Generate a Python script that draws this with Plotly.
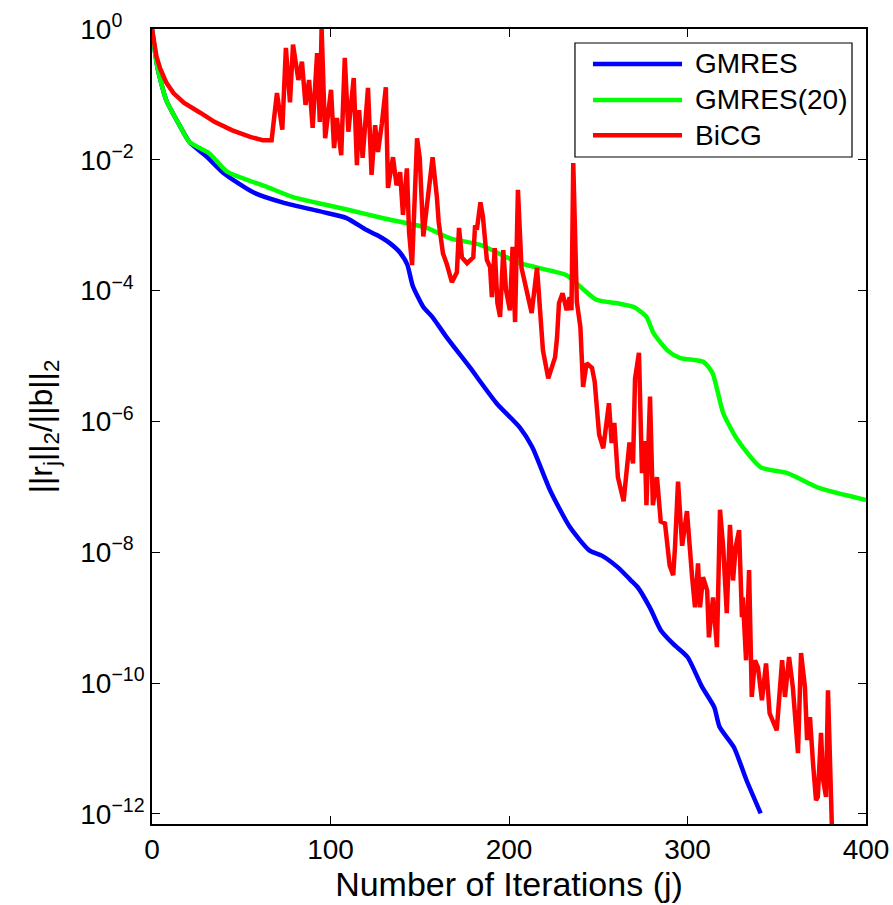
import plotly.graph_objects as go

# ---------------- data ----------------
# iteration numbers and log10 of relative residual
gmres_iter = [0, 3, 8, 16, 21, 31, 40, 57, 73, 96, 109, 120, 126, 133, 139, 143, 146, 152,
              157, 165, 178, 193, 206, 213, 223, 234, 245, 252, 261, 268, 272, 279, 285,
              292, 300, 308, 315, 318, 326, 333, 341]
gmres_log10 = [0, -0.58, -1.09, -1.5, -1.73, -1.96, -2.2, -2.5, -2.65, -2.8, -2.89, -3.07,
               -3.15, -3.27, -3.42, -3.6, -3.92, -4.25, -4.4, -4.71, -5.17, -5.72, -6.09,
               -6.39, -7.05, -7.61, -7.97, -8.05, -8.23, -8.42, -8.53, -8.85, -9.19, -9.4,
               -9.6, -10.05, -10.37, -10.67, -10.98, -11.48, -11.99]

gmres20_iter = [0, 3, 8, 16, 21, 32, 42, 64, 79, 96, 111, 129, 143, 154, 167, 184, 206,
                232, 240, 249, 262, 270, 277, 281, 289, 296, 309, 314, 320, 328, 341, 356,
                374, 400]
gmres20_log10 = [0, -0.58, -1.09, -1.5, -1.73, -1.9, -2.18, -2.41, -2.57, -2.68, -2.77,
                 -2.89, -2.97, -3.04, -3.2, -3.3, -3.58, -3.76, -3.94, -4.14, -4.2, -4.25,
                 -4.4, -4.65, -4.92, -5.03, -5.09, -5.26, -5.87, -6.28, -6.7, -6.79, -7.02,
                 -7.2]

bicg_iter = [0, 1, 2.5, 4.5, 8, 12, 18, 27, 35, 45, 55, 62, 67, 70, 73, 75, 77.3, 79, 82,
             84, 86, 88, 90, 92.5, 94, 95, 97, 100.3, 102, 103.6, 106, 108, 110, 113, 114.8,
             116, 118, 121, 123, 125, 126.6, 128.8, 131, 132.2, 135, 137, 139, 140.6, 142.8,
             144, 145.7, 148.5, 150, 152, 157.2, 159.6, 160.6, 163, 165, 168, 170.8, 172,
             173.6, 176.5, 180, 181, 182, 184, 185.4, 187.6, 189.4, 190.4, 192, 193.5, 195,
             196.8, 198.3, 200.5, 202, 203.4, 205, 207, 210, 212.7, 215.7, 217.4, 219, 222,
             225.8, 226.9, 228, 230, 232.3, 234, 235, 236, 238, 240, 241.5, 243.5, 246.5,
             248, 250.5, 252.8, 256, 257.5, 259, 261, 264.2, 267.5, 269.5, 270.6, 272.8,
             274.5, 276, 277, 279, 280.6, 282.9, 285, 287.4, 290, 292, 293, 294.7, 297,
             299.7, 302.5, 304.2, 305.9, 307, 308.7, 311, 312, 314.3, 316.5, 318.2, 320,
             322, 323.8, 325.5, 327, 328.9, 330.5, 331, 332.8, 334.5, 336, 337.8, 339.5,
             341.7, 344, 346, 350, 353, 354.6, 356.9, 359, 361.9, 363.6, 365.8, 367, 368.6,
             370.3, 372, 373, 374.8, 376, 377.6, 378.7, 381]
bicg_log10 = [0, -0.2, -0.42, -0.6, -0.82, -0.98, -1.13, -1.28, -1.42, -1.55, -1.65, -1.7,
              -1.7, -0.98, -1.54, -0.29, -1.12, -0.24, -0.78, -0.5, -1.16, -0.78, -1.51,
              -0.37, -1.42, 0.02, -1.67, -0.93, -1.82, -1.36, -1.93, -0.44, -1.57, -0.75,
              -2.08, -1.24, -1.97, -0.9, -2.23, -1.47, -1.88, -1.44, -0.89, -2.43, -1.96,
              -2.39, -2.19, -2.84, -2.13, -3.1, -3.61, -1.67, -1.97, -3.17, -1.96, -2.57,
              -2.95, -3.43, -3.58, -3.87, -3.72, -3.04, -3.49, -3.58, -3.49, -3.0, -3.07,
              -2.65, -2.87, -3.53, -3.64, -4.1, -3.35, -4.19, -4.4, -3.38, -3.99, -4.3, -3.33,
              -4.48, -2.46, -3.65, -3.99, -4.34, -3.65, -4.25, -4.91, -5.34, -5.02, -4.72,
              -4.19, -4.04, -4.3, -4.1, -4.3, -2.05, -4.17, -4.56, -5.47, -5.11, -5.18, -5.39,
              -6.2, -6.41, -5.72, -6.33, -6.02, -6.85, -7.22, -6.32, -6.64, -5.35, -4.95,
              -6.79, -6.3, -7.28, -5.62, -7.28, -6.85, -7.53, -7.56, -8.2, -8.35, -7.92,
              -6.92, -7.9, -7.37, -8.35, -8.84, -8.17, -8.84, -8.38, -8.58, -9.3, -8.69,
              -9.45, -7.35, -7.92, -8.93, -7.58, -8.43, -7.92, -7.66, -8.99, -8.69, -9.65,
              -8.27, -10.21, -9.65, -9.76, -10.26, -9.7, -10.46, -10.72, -9.65, -10.21, -9.6,
              -10.06, -11.07, -9.54, -10.06, -10.87, -10.52, -11.22, -11.79, -11.74, -10.76,
              -11.48, -11.74, -10.11, -12.3]

series_names = ["GMRES", "GMRES(20)", "BiCG"]
series_colors = ["#0000FF", "#00FF00", "#FF0000"]
series_shapes = ["spline", "spline", "linear"]

x_ticks = [0, 100, 200, 300, 400]
y_tick_exponents = [0, -2, -4, -6, -8, -10, -12]

x_title = "Number of Iterations (j)"
y_title = "||r<sub>j</sub>||<sub>2</sub>/||b||<sub>2</sub>"

# ---------------- figure ----------------
FONT = "Liberation Sans, Arial, Helvetica, sans-serif"
HIDE = "<span style='color:rgba(0,0,0,0)'>{}</span>"


def tick_label(e):
    s = ("−" + str(-e)) if e < 0 else str(e)
    pad = ""
    if len(s) == 1:
        pad = HIDE.format("−0")
    elif len(s) == 2:
        pad = HIDE.format("0")
    return "10<sup>" + s + pad + "</sup>"


fig = go.Figure()
all_x = [gmres_iter, gmres20_iter, bicg_iter]
all_e = [gmres_log10, gmres20_log10, bicg_log10]
for name, col, shp, xs, es in zip(series_names, series_colors, series_shapes, all_x, all_e):
    line = dict(color=col, width=4.5, shape=shp)
    if shp == "spline":
        line["smoothing"] = 0.6
    fig.add_trace(go.Scatter(
        x=xs, y=[10 ** e for e in es], mode="lines", name=name,
        line=line, showlegend=False,
    ))

axis_common = dict(
    showline=True, linecolor="black", linewidth=1.5, mirror="allticks",
    ticks="inside", ticklen=8, tickwidth=1, tickcolor="black",
    showgrid=False, zeroline=False, automargin=False,
    tickfont=dict(family=FONT, size=28, color="black"),
)

fig.update_xaxes(range=[0, 400], tickvals=x_ticks, ticktext=[str(v) for v in x_ticks],
                 title=dict(text=x_title, font=dict(family=FONT, size=34, color="black"),
                            standoff=0),
                 **axis_common)
fig.update_yaxes(type="log", range=[-12.153, 0],
                 tickvals=[10 ** e for e in y_tick_exponents],
                 ticktext=[tick_label(e) for e in y_tick_exponents],
                 title=dict(text=y_title, font=dict(family=FONT, size=32, color="black"),
                            standoff=18),
                 **axis_common)

# custom legend (box, line samples, labels) in paper coordinates
shapes = [dict(type="rect", xref="paper", yref="paper", x0=0.5924, x1=0.9804,
               y0=0.8390, y1=0.9824, line=dict(color="black", width=1.2),
               fillcolor="white", layer="above")]
annotations = []
legend_y = [0.9560, 0.9107, 0.8663]
for name, col, ly in zip(series_names, series_colors, legend_y):
    shapes.append(dict(type="line", xref="paper", yref="paper", x0=0.6176, x1=0.7423,
                       y0=ly, y1=ly, line=dict(color=col, width=4.5), layer="above"))
    annotations.append(dict(text=name, xref="paper", yref="paper", x=0.7577, y=ly,
                            xanchor="left", yanchor="middle", showarrow=False,
                            font=dict(family=FONT, size=28, color="black")))

fig.update_layout(
    width=893, height=905,
    margin=dict(l=152, r=27, t=29, b=81, pad=0, autoexpand=False),
    paper_bgcolor="white", plot_bgcolor="white",
    shapes=shapes, annotations=annotations,
    font=dict(family=FONT, color="black"),
)

fig.write_html("out.html")
